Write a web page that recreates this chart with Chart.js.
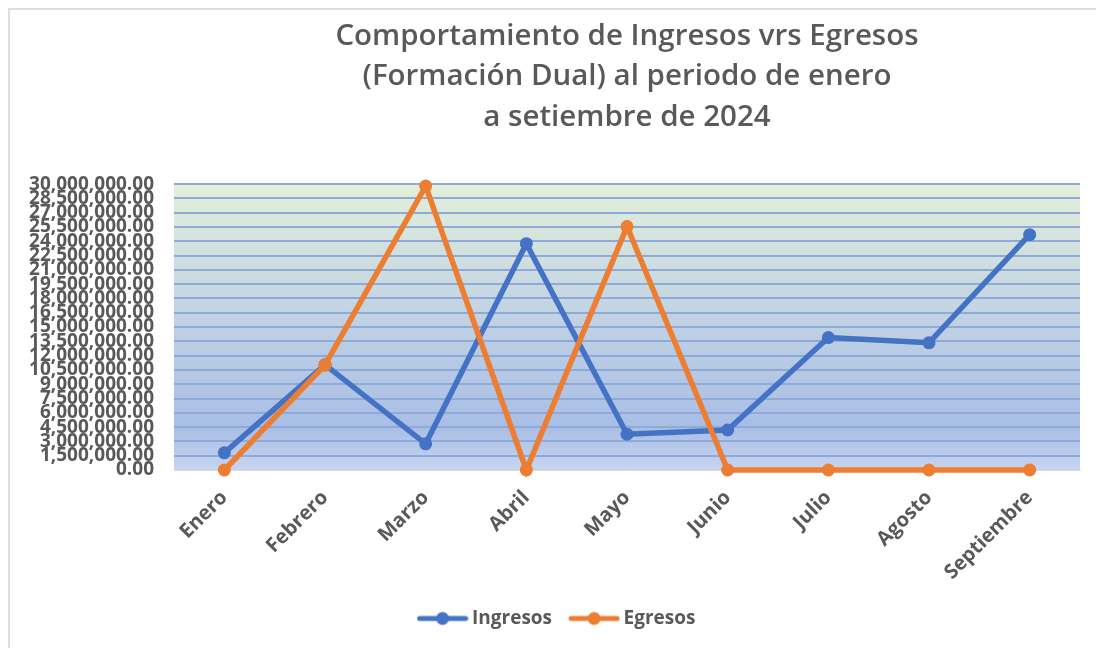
<!DOCTYPE html>
<html>
<head>
<meta charset="utf-8">
<script src="https://cdn.jsdelivr.net/npm/chart.js@4.4.1/dist/chart.umd.min.js"></script>
<style>
  html, body { margin: 0; padding: 0; background: #fff; }
  #frame { position: absolute; left: 8px; top: 8px; width: 1088px; height: 640px;
           border-top: 2px solid #dedede; border-left: 2px solid #dedede; }
  #wrap { position: absolute; left: 0; top: 0; width: 1096px; height: 648px; }
</style>
</head>
<body>
<div id="frame"></div>
<div id="wrap"><canvas id="chart" width="1096" height="648"></canvas></div>
<script>
const meses = ['Enero', 'Febrero', 'Marzo', 'Abril', 'Mayo', 'Junio', 'Julio', 'Agosto', 'Septiembre'];
const ingresos = [1800000, 11050000, 2750000, 23750000, 3750000, 4200000, 13900000, 13350000, 24700000];
const egresos = [0, 11000000, 29800000, 0, 25550000, 0, 0, 0, 0];
const yMin = 0;
const yMax = 30000000;
const yStep = 1500000;

const titulo = [
    'Comportamiento de Ingresos vrs Egresos',
    '(Formación Dual) al periodo de enero',
    'a setiembre de 2024'
];

const gris = '#595959';
const azul = '#4472c4';
const naranja = '#ed7d31';

function legendMarker(color) {
    const c = document.createElement('canvas');
    c.width = 52;
    c.height = 16;
    const g = c.getContext('2d');
    g.strokeStyle = color;
    g.lineWidth = 5;
    g.lineCap = 'round';
    g.beginPath();
    g.moveTo(3, 8);
    g.lineTo(49, 8);
    g.stroke();
    g.fillStyle = color;
    g.beginPath();
    g.arc(26, 8, 6.5, 0, Math.PI * 2);
    g.fill();
    return c;
}

const fondo = {
    id: 'fondo',
    beforeDraw(chart) {
        const { ctx, chartArea: a } = chart;
        const grad = ctx.createLinearGradient(0, a.top, 0, a.bottom);
        grad.addColorStop(0, '#e2efda');
        grad.addColorStop(0.45, '#c2d3e3');
        grad.addColorStop(0.85, '#a9bee5');
        grad.addColorStop(1, '#c6d5ef');
        ctx.save();
        ctx.fillStyle = grad;
        ctx.fillRect(a.left, a.top, a.right - a.left, a.bottom - a.top);
        ctx.restore();
    }
};

// nudge the legend a little to the right, as in the original
const legendShift = {
    id: 'legendShift',
    afterLayout(chart) {
        if (chart.legend) {
            chart.legend.left += 14;
            chart.legend.right += 14;
        }
    }
};

const ctx = document.getElementById('chart').getContext('2d');
new Chart(ctx, {
    type: 'line',
    data: {
        labels: meses,
        datasets: [
            {
                label: 'Ingresos',
                data: ingresos,
                borderColor: azul,
                backgroundColor: azul,
                borderWidth: 5.5,
                pointRadius: 6.5,
                pointHoverRadius: 6.5,
                pointBorderWidth: 0,
                tension: 0,
                clip: false,
                order: 1
            },
            {
                label: 'Egresos',
                data: egresos,
                borderColor: naranja,
                backgroundColor: naranja,
                borderWidth: 5.5,
                pointRadius: 6.5,
                pointHoverRadius: 6.5,
                pointBorderWidth: 0,
                tension: 0,
                clip: false,
                order: 0
            }
        ]
    },
    options: {
        responsive: false,
        animation: false,
        layout: { padding: { left: 10, right: 16, top: 0, bottom: 10 } },
        plugins: {
            title: {
                display: true,
                text: titulo,
                fullSize: false,
                color: gris,
                font: { family: 'Open Sans', size: 29.5, weight: '600', lineHeight: 1.38 },
                padding: { top: 16, bottom: 46 }
            },
            legend: {
                position: 'bottom',
                labels: {
                    color: gris,
                    font: { family: 'Open Sans', size: 19, weight: 'bold' },
                    usePointStyle: true,
                    pointStyleWidth: 40,
                    padding: 22,
                    sort: (a, b) => a.datasetIndex - b.datasetIndex,
                    generateLabels(chart) {
                        const items = Chart.defaults.plugins.legend.labels.generateLabels(chart);
                        items.forEach(it => {
                            const ds = chart.data.datasets[it.datasetIndex];
                            it.pointStyle = legendMarker(ds.borderColor);
                        });
                        return items;
                    }
                }
            },
            tooltip: { enabled: false }
        },
        scales: {
            x: {
                offset: true,
                grid: { display: false },
                border: { display: true, color: '#d9d9d9', width: 1 },
                ticks: {
                    color: gris,
                    font: { family: 'Open Sans', size: 20, weight: 'bold' },
                    maxRotation: 45,
                    minRotation: 45,
                    padding: 8
                },
                afterFit(scale) { scale.height = 117; }
            },
            y: {
                min: yMin,
                max: yMax,
                border: { display: false },
                grid: {
                    drawTicks: false,
                    lineWidth: 2,
                    color: c => (c.tick && c.tick.value === 0) ? 'rgba(0,0,0,0)' : '#8eaadb'
                },
                ticks: {
                    stepSize: yStep,
                    autoSkip: false,
                    padding: 20,
                    color: gris,
                    font: { family: 'Open Sans', size: 19, weight: 'bold' },
                    callback: v => Number(v).toLocaleString('en-US', { minimumFractionDigits: 2, maximumFractionDigits: 2 })
                },
                afterFit(scale) { scale.width = 164; }
            }
        }
    },
    plugins: [fondo, legendShift]
});
</script>
</body>
</html>
